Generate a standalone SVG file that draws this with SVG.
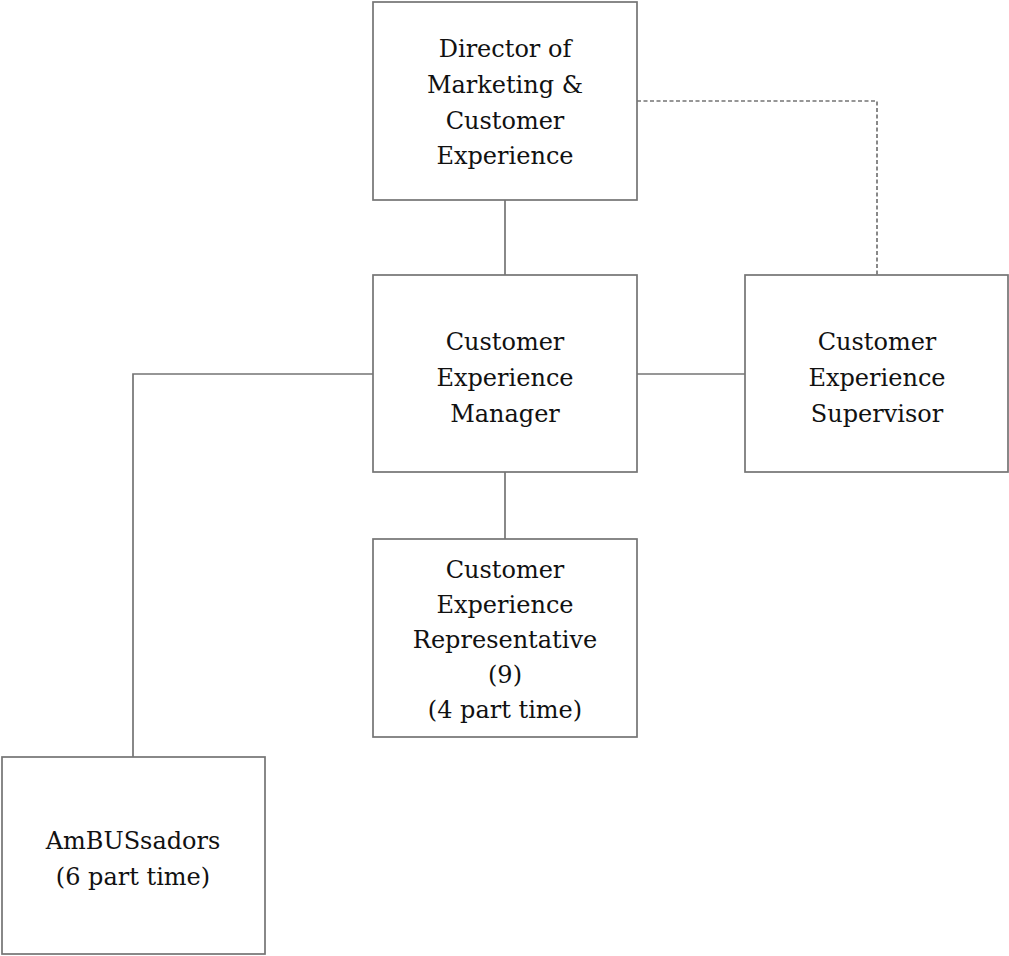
<svg xmlns="http://www.w3.org/2000/svg" width="1009" height="956" viewBox="0 0 1009 956">
  <style>
    .box { fill: #ffffff; stroke: #747474; stroke-width: 1.7; }
    .line { fill: none; stroke: #747474; stroke-width: 1.7; }
    .dash { stroke-dasharray: 4 2.5; }
    text { font-family: "DejaVu Serif", "Liberation Serif", serif; font-size: 24px; fill: #111111; text-anchor: middle; }
  </style>
  <rect width="1009" height="956" fill="#ffffff"/>

  <!-- connectors -->
  <g id="connectors">
    <line class="line" x1="505" y1="200" x2="505" y2="275"/>
    <polyline class="line dash" points="637,101 877,101 877,275"/>
    <line class="line" x1="637" y1="374" x2="745" y2="374"/>
    <polyline class="line" points="373,374 133,374 133,757"/>
    <line class="line" x1="505" y1="472" x2="505" y2="539"/>
  </g>

  <g id="director">
    <rect class="box" x="373" y="2" width="264" height="198"/>
    <text x="505" y="57">Director of</text>
    <text x="505" y="93">Marketing &amp;</text>
    <text x="505" y="129">Customer</text>
    <text x="505" y="164">Experience</text>
  </g>

  <g id="manager">
    <rect class="box" x="373" y="275" width="264" height="197"/>
    <text x="505" y="350">Customer</text>
    <text x="505" y="386">Experience</text>
    <text x="505" y="422">Manager</text>
  </g>

  <g id="supervisor">
    <rect class="box" x="745" y="275" width="263" height="197"/>
    <text x="877" y="350">Customer</text>
    <text x="877" y="386">Experience</text>
    <text x="877" y="422">Supervisor</text>
  </g>

  <g id="representative">
    <rect class="box" x="373" y="539" width="264" height="198"/>
    <text x="505" y="578">Customer</text>
    <text x="505" y="613">Experience</text>
    <text x="505" y="648">Representative</text>
    <text x="505" y="683">(9)</text>
    <text x="505" y="718">(4 part time)</text>
  </g>

  <g id="ambussadors">
    <rect class="box" x="2" y="757" width="263" height="197"/>
    <text x="133" y="849">AmBUSsadors</text>
    <text x="133" y="885">(6 part time)</text>
  </g>
</svg>
